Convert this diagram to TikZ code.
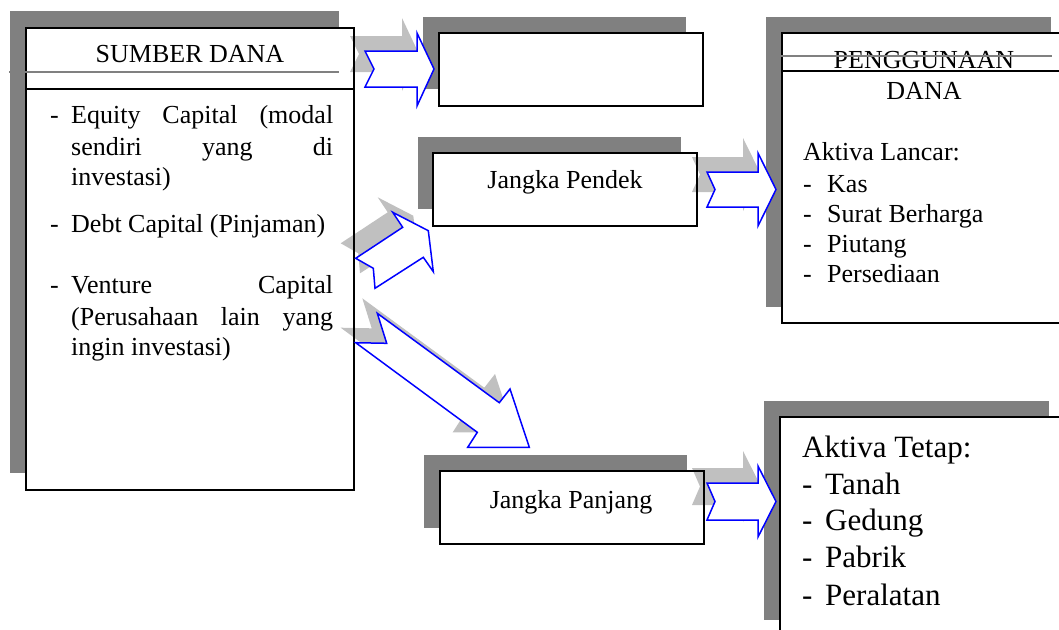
\documentclass[tikz,border=0pt]{standalone}
\usepackage{fontspec}
\setmainfont{Liberation Serif}
\definecolor{shadowgray}{HTML}{808080}
\definecolor{arrowgray}{HTML}{C0C0C0}
\definecolor{arrowblue}{HTML}{0000FF}
\begin{document}
\begin{tikzpicture}[x=1pt,y=-1pt,
  boxshadow/.style={fill=shadowgray,draw=none},
  boxfill/.style={fill=white,draw=none},
  boxline/.style={draw=black,line width=1.5pt},
  arrowshadow/.style={fill=arrowgray,draw=none},
  bluearrow/.style={draw=arrowblue,fill=white,line width=1.5pt,line join=miter},
  strike/.style={draw=shadowgray,line width=1.2pt},
  txt/.style={inner sep=0pt,anchor=base west,font=\fontsize{26}{30}\selectfont},
  ctxt/.style={txt,anchor=base},
  bigtxt/.style={inner sep=0pt,anchor=base west,font=\fontsize{31}{36}\selectfont}]
\useasboundingbox (0,0) rectangle (1059,629);
\clip (0,0) rectangle (1059,629);
% box corners
\coordinate (sdA) at (26,28);   \coordinate (sdB) at (354,490);
\coordinate (topA) at (439,33); \coordinate (topB) at (703,106);
\coordinate (jpA) at (433,153); \coordinate (jpB) at (697,226);
\coordinate (jgA) at (440,471); \coordinate (jgB) at (704,544);
\coordinate (pdA) at (782,33);  \coordinate (pdB) at (1066,323);
\coordinate (atA) at (780,417); \coordinate (atB) at (1066,640);
% shadows
\path[boxshadow] (10,11) rectangle (339,473);
\path[boxshadow] (423,17) rectangle (686,89);
\path[boxshadow] (418,137) rectangle (681,209);
\path[boxshadow] (424,455) rectangle (687,528);
\path[boxshadow] (766,17) rectangle (1051,307);
\path[boxshadow] (764,401) rectangle (1049,620);
% fills
\foreach \b in {sd,top,jp,jg,pd,at} {\path[boxfill] (\b A) rectangle (\b B);}
% arrow shadows
\begin{scope}[shift={(-15,-15)}]
\path[arrowshadow] (365,51) -- (417,51) -- (417,33) -- (434,69) -- (417,106) -- (417,87) -- (365,87) -- (374,69) -- cycle;
\path[arrowshadow] (707,172) -- (758,172) -- (758,153) -- (776,189.5) -- (758,226) -- (758,207) -- (707,207) -- (715,189.5) -- cycle;
\path[arrowshadow] (707,483) -- (758,483) -- (758,466) -- (776,501.5) -- (758,537) -- (758,520) -- (707,520) -- (715,501.5) -- cycle;
\path[arrowshadow] (355.7,258.3) -- (402.7,227.3) -- (392.7,212.3) -- (428.3,230.7) -- (433.3,271.7) -- (423.3,257.3) -- (375,288.3) -- (373.3,268.3) -- cycle;
\path[arrowshadow] (355.7,342.7) -- (386.7,343.3) -- (377.3,313.3) -- (499.3,402.7) -- (510,389) -- (529.3,447.3) -- (467.7,447.3) -- (477.3,432.3) -- cycle;
\end{scope}
% borders
\foreach \b in {sd,top,jp,jg,pd,at} {\path[boxline] (\b A) rectangle (\b B);}
\draw[line width=1.5pt] (26,89) -- (354,89);
\draw[line width=1.5pt] (782,71) -- (1066,71);
% blue arrows
\path[bluearrow] (365,51) -- (417,51) -- (417,33) -- (434,69) -- (417,106) -- (417,87) -- (365,87) -- (374,69) -- cycle;
\path[bluearrow] (707,172) -- (758,172) -- (758,153) -- (776,189.5) -- (758,226) -- (758,207) -- (707,207) -- (715,189.5) -- cycle;
\path[bluearrow] (707,483) -- (758,483) -- (758,466) -- (776,501.5) -- (758,537) -- (758,520) -- (707,520) -- (715,501.5) -- cycle;
\path[bluearrow] (355.7,258.3) -- (402.7,227.3) -- (392.7,212.3) -- (428.3,230.7) -- (433.3,271.7) -- (423.3,257.3) -- (375,288.3) -- (373.3,268.3) -- cycle;
\path[bluearrow] (355.7,342.7) -- (386.7,343.3) -- (377.3,313.3) -- (499.3,402.7) -- (510,389) -- (529.3,447.3) -- (467.7,447.3) -- (477.3,432.3) -- cycle;
% texts
\node[ctxt] (sd) at (190,62) {SUMBER DANA};
\node[txt] (d1) at (50,123) {-};
\node[txt] (l1a) at (71,123) {\makebox[262pt][s]{Equity Capital (modal}};
\node[txt] (l1b) at (71,155) {\makebox[262pt][s]{sendiri yang di}};
\node[txt] (l1c) at (71,185) {investasi)};
\node[txt] (d2) at (50,232) {-};
\node[txt] (l2) at (71,232) {Debt Capital (Pinjaman)};
\node[txt] (d3) at (50,293) {-};
\node[txt] (l3a) at (71,293) {\makebox[262pt][s]{Venture Capital}};
\node[txt] (l3b) at (71,325) {\makebox[262pt][s]{(Perusahaan lain yang}};
\node[txt] (l3c) at (71,355) {ingin investasi)};
\node[ctxt] (jpt) at (565,188) {Jangka Pendek};
\node[ctxt] (jgt) at (571,508) {Jangka Panjang};
\node[ctxt] (pd1) at (924,68) {PENGGUNAAN};
\node[ctxt] (pd2) at (924,99) {DANA};
\node[txt] (al) at (803,160) {Aktiva Lancar:};
\foreach \y/\t [count=\i] in {192/Kas,222/Surat Berharga,252/Piutang,282/Persediaan} {
  \node[txt] (ald\i) at (803,\y) {-};
  \node[txt] (ali\i) at (827,\y) {\t};
}
\node[bigtxt] (at) at (802,457) {Aktiva Tetap:};
\foreach \y/\t [count=\i] in {494/Tanah,530/Gedung,567/Pabrik,605/Peralatan} {
  \node[bigtxt] (atd\i) at (802,\y) {-};
  \node[bigtxt] (ati\i) at (825,\y) {\t};
}
% strike lines
\path[strike] (9,72) -- (339,72);
\path[strike] (766,56) -- (1052,56);
\end{tikzpicture}
\end{document}
